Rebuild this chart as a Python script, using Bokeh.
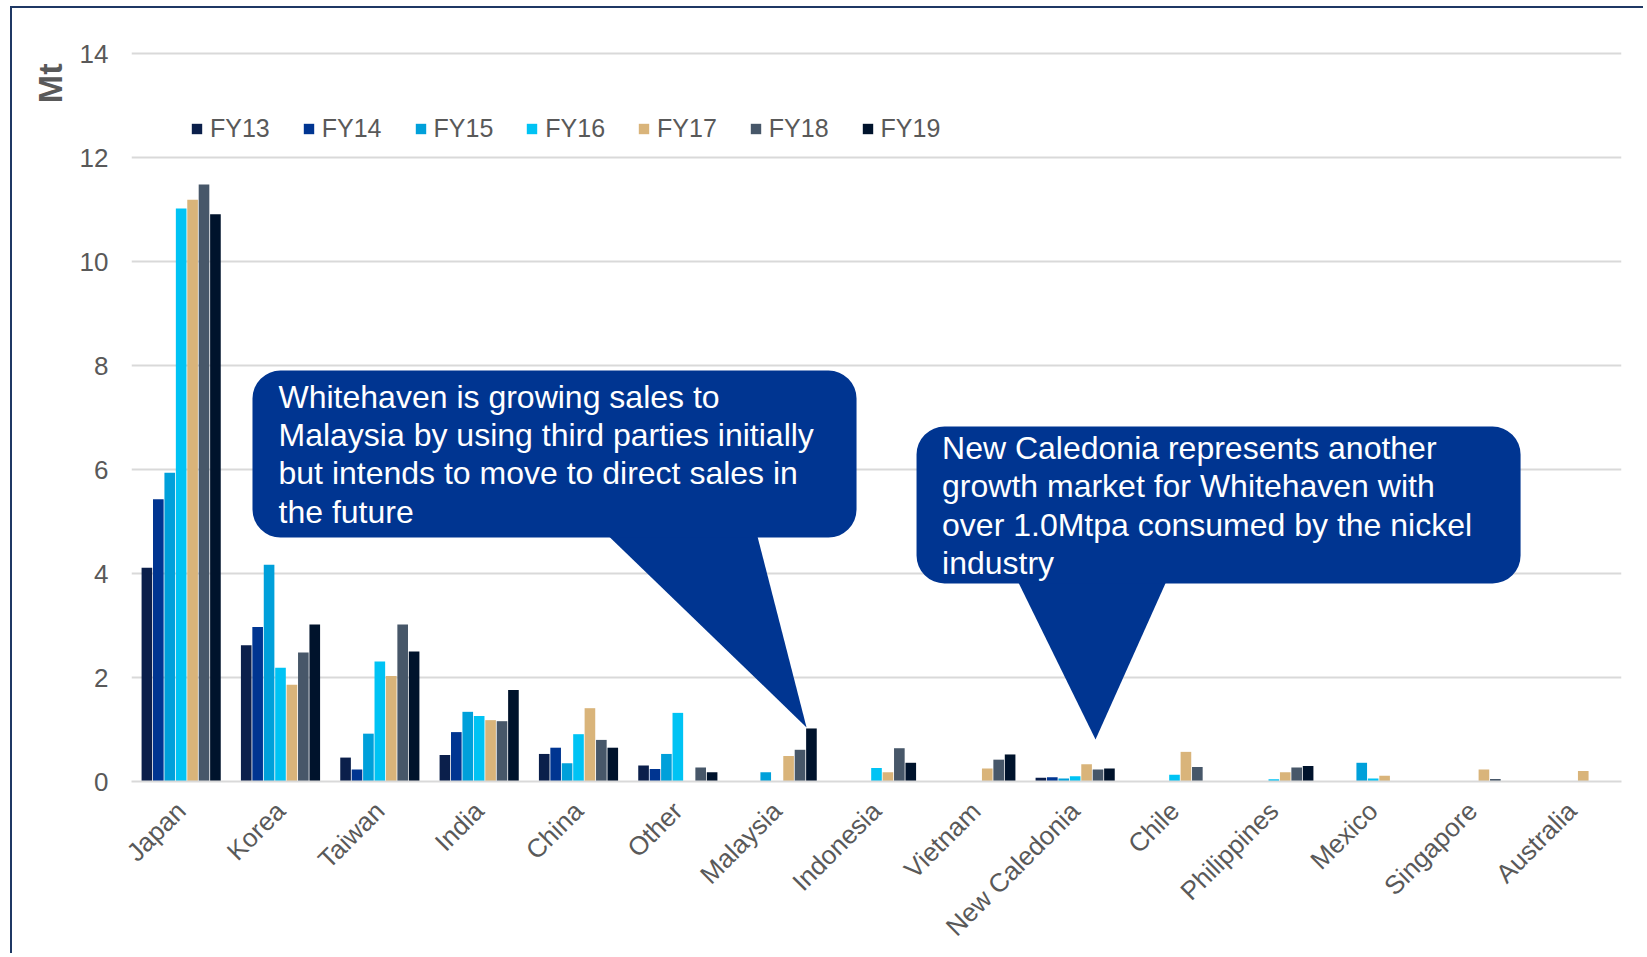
from math import pi
from bokeh.plotting import figure
from bokeh.models import (FactorRange, Range1d, FixedTicker, BoxAnnotation,
                          PolyAnnotation, Label, ColumnDataSource, Title)
from bokeh.transform import dodge
from bokeh.embed import file_html
from bokeh.resources import INLINE

countries = ["Japan", "Korea", "Taiwan", "India", "China", "Other", "Malaysia",
             "Indonesia", "Vietnam", "New Caledonia", "Chile", "Philippines",
             "Mexico", "Singapore", "Australia"]
series_names = ["FY13", "FY14", "FY15", "FY16", "FY17", "FY18", "FY19"]
fy13 = [4.11, 2.62, 0.46, 0.51, 0.53, 0.31, 0, 0, 0, 0.07, 0, 0, 0, 0, 0]
fy14 = [5.43, 2.97, 0.23, 0.95, 0.65, 0.24, 0, 0, 0, 0.08, 0, 0, 0, 0, 0]
fy15 = [5.94, 4.17, 0.92, 1.34, 0.35, 0.53, 0.18, 0, 0, 0.06, 0, 0, 0.36, 0, 0]
fy16 = [11.02, 2.19, 2.31, 1.26, 0.91, 1.32, 0, 0.26, 0, 0.10, 0.13, 0.045, 0.06, 0, 0]
fy17 = [11.19, 1.86, 2.03, 1.18, 1.41, 0, 0.49, 0.18, 0.25, 0.33, 0.57, 0.18, 0.11, 0.23, 0.20]
fy18 = [11.48, 2.48, 3.02, 1.16, 0.80, 0.27, 0.61, 0.64, 0.42, 0.23, 0.28, 0.27, 0, 0.05, 0]
fy19 = [10.91, 3.02, 2.50, 1.76, 0.65, 0.18, 1.02, 0.36, 0.52, 0.25, 0, 0.30, 0, 0, 0]
series_values = [fy13, fy14, fy15, fy16, fy17, fy18, fy19]
colors = ["#0B1F4B", "#003591", "#00A0DA", "#00C3F4", "#D9B47A", "#475769", "#00132C"]
y_ticks = [0, 2, 4, 6, 8, 10, 12, 14]

callout1_lines = ["Whitehaven is growing sales to",
                  "Malaysia by using third parties initially",
                  "but intends to move to direct sales in",
                  "the future"]
callout2_lines = ["New Caledonia represents another",
                  "growth market for Whitehaven with",
                  "over 1.0Mtpa consumed by the nickel",
                  "industry"]

FONT = "Liberation Sans"
GREY = "#595959"
CALLOUT = "#003591"

p = figure(x_range=FactorRange(*countries), y_range=Range1d(0, 14.04),
           width=1633, height=947, output_backend="svg", toolbar_location=None,
           title=None)
p.min_border_left = 119
p.min_border_right = 24
p.min_border_top = 43
p.min_border_bottom = 174
p.outline_line_color = None
p.background_fill_color = "white"
p.border_fill_color = "white"
p.styles = {"border-top": "2px solid #1F3864", "border-left": "2px solid #1F3864",
            "margin-left": "10px", "margin-top": "6px"}

n = len(series_names)
bar_step = 0.115
for i, (name, vals, col) in enumerate(zip(series_names, series_values, colors)):
    src = ColumnDataSource(dict(country=countries, v=vals))
    p.vbar(x=dodge("country", (i - (n - 1) / 2) * bar_step, range=p.x_range),
           top="v", width=0.107, source=src, fill_color=col, line_color=None,
           legend_label=name)

# axes / grid
p.xgrid.grid_line_color = None
p.ygrid.grid_line_color = "#D9D9D9"
p.ygrid.grid_line_width = 2
p.yaxis.ticker = FixedTicker(ticks=y_ticks)
p.yaxis.axis_line_color = None
p.yaxis.major_tick_line_color = None
p.yaxis.minor_tick_line_color = None
p.yaxis.major_label_standoff = 17
p.yaxis.major_label_text_font = FONT
p.yaxis.major_label_text_font_size = "26px"
p.yaxis.major_label_text_color = GREY

p.xaxis.axis_line_color = "#D9D9D9"
p.xaxis.axis_line_width = 2
p.xaxis.major_tick_line_color = None
p.xaxis.minor_tick_line_color = None
p.xaxis.major_label_orientation = pi / 4
p.xaxis.major_label_standoff = 19
p.xaxis.major_label_text_font = FONT
p.xaxis.major_label_text_font_size = "26px"
p.xaxis.major_label_text_color = GREY

# y axis title
p.add_layout(Title(text="Mt", align="right", offset=12, standoff=16,
                   text_font=FONT, text_font_size="34px", text_font_style="bold",
                   text_color=GREY), "left")

# legend
lg = p.legend[0]
lg.orientation = "horizontal"
lg.location = (59, 638)
lg.padding = 0
lg.margin = 0
lg.spacing = 32
lg.glyph_width = 13
lg.glyph_height = 13
lg.label_standoff = 7
lg.label_text_font = FONT
lg.label_text_font_size = "25px"
lg.label_text_color = GREY
lg.border_line_color = None
lg.background_fill_alpha = 0

# callout 1 (Malaysia) -- x in the factor range's synthetic units
p.add_layout(PolyAnnotation(xs=[4.76, 6.29, 6.796], ys=[4.80, 4.80, 1.04],
                            fill_color=CALLOUT, fill_alpha=1, line_color=None))
p.add_layout(BoxAnnotation(left=1.218, right=7.299, bottom=4.692, top=7.904,
                           fill_color=CALLOUT, fill_alpha=1,
                           line_color=None, border_radius=28))
for k, line in enumerate(callout1_lines):
    p.add_layout(Label(x=1.48, y=7.40 - k * 0.737, text=line,
                       text_font=FONT, text_font_size="32px", text_color="white",
                       text_baseline="alphabetic"))

# callout 2 (New Caledonia)
p.add_layout(PolyAnnotation(xs=[8.91, 10.43, 9.705], ys=[3.90, 3.90, 0.81],
                            fill_color=CALLOUT, fill_alpha=1, line_color=None))
p.add_layout(BoxAnnotation(left=7.903, right=13.984, bottom=3.808, top=6.827,
                           fill_color=CALLOUT, fill_alpha=1,
                           line_color=None, border_radius=28))
for k, line in enumerate(callout2_lines):
    p.add_layout(Label(x=8.16, y=6.41 - k * 0.735, text=line,
                       text_font=FONT, text_font_size="32px", text_color="white",
                       text_baseline="alphabetic"))

open("out.html", "w").write(file_html(p, INLINE))
